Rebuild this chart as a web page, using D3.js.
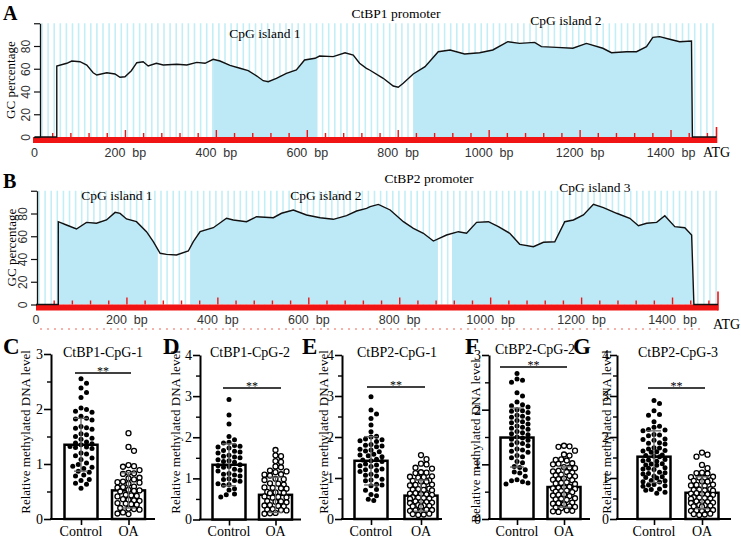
<!DOCTYPE html>
<html>
<head>
<meta charset="utf-8">
<script src="https://cdn.jsdelivr.net/npm/d3@7"></script>
<style>
  body { margin: 0; background: #fff; }
  text { font-family: "Liberation Serif", "Times New Roman", serif; }
</style>
</head>
<body>
<svg id="fig" width="741" height="542"></svg>
<script>
// ---- promoter GC profiles: [bp, GC %]
const bpTicks = [0, 200, 400, 600, 800, 1000, 1200, 1400];
const gcTicks = [0, 20, 40, 60, 80, 100];

const ctbp1Curve = [[0,0],[49,0],[49,62.4],[71,64.8],[82,66.8],[100,66.2],[115,63.3],[129,56.5],[137,54.5],[159,56.5],[177,55.4],[188,52.5],[199,53],[213,58.3],[225,65.3],[239,66.2],[250,62.4],[268,64.8],[283,63.3],[313,63.9],[335,63.3],[357,65.6],[375,64.8],[393,68.3],[408,66.8],[430,63],[452,60.4],[470,58.3],[489,53.6],[503,49.5],[514,48.6],[532,51.6],[554,56],[576,58.9],[594,67.7],[617,69.2],[627,71.2],[657,70.7],[683,74.1],[701,72],[715,64.8],[730,60.4],[737,58.9],[767,51.6],[789,44.8],[800,43.7],[811,47.2],[833,55.4],[859,61.8],[888,75],[914,76.5],[946,73],[979,74.1],[1008,76.5],[1041,83.8],[1067,82.3],[1100,83.2],[1115,79.4],[1148,78.8],[1184,78],[1214,82.3],[1250,78],[1269,74.1],[1302,75],[1324,75],[1346,79.4],[1360,87.6],[1375,88.2],[1397,85.9],[1419,83.8],[1445,84.4],[1447,0],[1500,0]];
const ctbp1Islands = [[393, 622], [833, 1447]];

const ctbp2Curve = [[0,0],[49,0],[49,72.8],[67,69.9],[89,66.4],[111,72.2],[133,71.4],[155,74.3],[174,81],[185,80.1],[199,75.2],[221,72.8],[243,64],[258,55.2],[273,45],[287,44.1],[309,43.5],[335,47],[346,55.2],[361,64],[390,67.5],[419,75.8],[434,74.3],[463,72.8],[485,77.2],[522,76.3],[540,80.2],[566,83.1],[595,78.7],[625,76.3],[654,74.9],[683,78.1],[705,82.2],[727,84.5],[735,86],[753,88],[779,83.1],[808,72.8],[830,67],[852,62.6],[874,55.8],[903,61.1],[929,64],[947,62.6],[969,72.2],[995,72.8],[1017,68.4],[1042,62.6],[1064,52.9],[1094,50.8],[1116,54.7],[1141,55.2],[1163,72.8],[1182,74.3],[1204,78.7],[1226,88.1],[1248,85.1],[1277,80.2],[1306,75.8],[1325,69.3],[1343,71.4],[1365,72.2],[1383,78.1],[1405,68.4],[1427,67.5],[1442,61.1],[1447,0],[1500,0]];
const ctbp2Islands = [[49, 268], [339, 884], [915, 1447]];

// ---- methylation bar charts
const groups = ["Control", "OA"];

const cpg1Control = [2.55,2.47,2.38,2.30,2.21,2.02,1.99,1.96,1.94,1.87,1.83,1.82,1.80,1.68,1.66,1.65,1.63,1.55,1.53,1.50,1.47,1.45,1.40,1.38,1.37,1.35,1.32,1.31,1.30,1.28,1.20,1.18,1.15,1.11,1.08,1.02,0.99,0.96,0.94,0.92,0.87,0.85,0.80,0.78,0.72,0.70,0.65,0.63,0.56];
const cpg1OA = [1.56,1.31,1.24,0.98,0.96,0.95,0.89,0.84,0.83,0.82,0.75,0.74,0.72,0.68,0.67,0.66,0.64,0.59,0.58,0.57,0.53,0.52,0.51,0.50,0.44,0.43,0.42,0.41,0.36,0.35,0.34,0.33,0.29,0.28,0.27,0.26,0.20,0.19,0.18,0.17,0.12,0.10,0.09];
const cpg1Mean = [1.35, 0.52], cpg1Sd = [0.48, 0.32];

const cpg2Control = [2.92,2.54,2.32,2.02,1.94,1.88,1.86,1.80,1.78,1.76,1.74,1.68,1.66,1.64,1.62,1.56,1.54,1.52,1.50,1.45,1.43,1.41,1.39,1.33,1.31,1.29,1.27,1.22,1.20,1.18,1.12,1.10,1.08,1.06,0.99,0.97,0.95,0.93,0.87,0.85,0.83,0.75,0.72,0.62,0.60,0.55];
const cpg2OA = [1.69,1.56,1.54,1.42,1.40,1.29,1.27,1.19,1.17,1.15,1.10,1.09,1.07,0.99,0.98,0.96,0.88,0.87,0.85,0.78,0.77,0.76,0.75,0.67,0.66,0.65,0.64,0.56,0.55,0.54,0.53,0.45,0.44,0.43,0.42,0.35,0.34,0.33,0.32,0.25,0.24,0.23,0.22,0.16,0.15,0.14];
const cpg2Mean = [1.33, 0.60], cpg2Sd = [0.51, 0.43];

const c2cpg1Control = [2.98,2.66,2.56,2.45,2.29,2.13,2.02,2.00,1.95,1.93,1.91,1.89,1.82,1.80,1.78,1.76,1.70,1.68,1.66,1.64,1.58,1.56,1.54,1.52,1.46,1.44,1.42,1.40,1.34,1.32,1.30,1.28,1.22,1.20,1.18,1.16,1.09,1.07,1.05,0.97,0.95,0.93,0.85,0.83,0.81,0.72,0.70,0.60,0.57,0.48,0.45];
const c2cpg1OA = [1.56,1.46,1.35,1.33,1.25,1.23,1.14,1.13,1.12,1.04,1.03,1.02,1.01,0.94,0.93,0.92,0.91,0.84,0.83,0.82,0.81,0.74,0.73,0.72,0.71,0.70,0.63,0.62,0.61,0.60,0.59,0.53,0.52,0.51,0.50,0.49,0.43,0.42,0.41,0.40,0.39,0.34,0.33,0.32,0.31,0.30,0.23,0.22,0.21,0.20,0.19,0.13,0.12,0.11,0.10];
const c2cpg1Mean = [1.42, 0.57], c2cpg1Sd = [0.59, 0.38];

const c2cpg2Control = [2.66,2.56,2.54,2.50,2.31,2.25,2.14,2.09,2.07,2.05,2.00,1.98,1.97,1.95,1.90,1.88,1.86,1.84,1.80,1.78,1.76,1.74,1.70,1.68,1.66,1.64,1.60,1.58,1.56,1.54,1.50,1.48,1.46,1.44,1.40,1.38,1.36,1.34,1.28,1.26,1.24,1.22,1.16,1.14,1.12,1.05,1.03,0.96,0.94,0.90,0.86,0.84,0.78,0.72,0.70,0.68,0.66,0.64];
const c2cpg2OA = [1.34,1.33,1.32,1.25,1.18,1.16,1.09,1.08,1.07,1.02,1.01,1.00,0.95,0.94,0.93,0.88,0.87,0.86,0.85,0.81,0.80,0.79,0.78,0.74,0.73,0.72,0.71,0.67,0.66,0.65,0.64,0.59,0.58,0.57,0.56,0.55,0.52,0.51,0.50,0.49,0.45,0.44,0.43,0.42,0.38,0.37,0.36,0.35,0.30,0.29,0.28,0.27,0.23,0.22,0.21,0.20,0.16,0.15,0.14,0.13];
const c2cpg2Mean = [1.49, 0.585], c2cpg2Sd = [0.54, 0.37];

const c2cpg3Control = [2.89,2.82,2.64,2.55,2.53,2.37,2.26,2.24,2.18,2.17,2.15,2.06,2.05,2.03,1.95,1.94,1.92,1.86,1.85,1.83,1.74,1.73,1.71,1.67,1.66,1.64,1.63,1.56,1.55,1.53,1.52,1.45,1.44,1.42,1.41,1.35,1.34,1.32,1.31,1.25,1.24,1.22,1.21,1.14,1.13,1.11,1.10,1.04,1.03,1.01,1.00,0.94,0.93,0.91,0.90,0.84,0.83,0.81,0.80,0.73,0.72,0.70,0.65,0.63];
const c2cpg3OA = [1.62,1.57,1.52,1.32,1.24,1.13,1.12,1.11,1.03,1.02,1.01,1.00,0.94,0.93,0.92,0.91,0.84,0.83,0.82,0.81,0.73,0.72,0.71,0.70,0.69,0.63,0.62,0.61,0.60,0.59,0.53,0.52,0.51,0.50,0.49,0.43,0.42,0.41,0.40,0.39,0.34,0.33,0.32,0.31,0.30,0.23,0.22,0.21,0.20,0.19,0.13,0.12,0.11,0.10];
const c2cpg3Mean = [1.52, 0.64], c2cpg3Sd = [0.63, 0.39];

const svg = d3.select("#fig");
const serif = '"Liberation Serif", "Times New Roman", serif';
const sans = '"Liberation Sans", Arial, sans-serif';

function drawPromoter(p) {
  const g = svg.append("g");
  const x = d3.scaleLinear().domain([0, 1500]).range(p.xRange);
  const y = d3.scaleLinear().domain([0, 100]).range([p.yBase, p.yTop]);

  // pale vertical stripes
  g.append("g").selectAll("line")
    .data(d3.range(p.axisX + 2, p.xRange[1], 6.1))
    .join("line")
    .attr("x1", d => d).attr("x2", d => d)
    .attr("y1", y(100)).attr("y2", y(0))
    .attr("stroke", "#c4eef6").attr("stroke-width", 1.6);

  // CpG island fills under the curve
  const area = d3.area().x(d => x(d[0])).y0(y(0)).y1(d => y(d[1]));
  p.islands.forEach((isl, i) => {
    const id = p.id + "clip" + i;
    g.append("clipPath").attr("id", id).append("rect")
      .attr("x", x(isl[0])).attr("width", x(isl[1]) - x(isl[0]))
      .attr("y", y(100)).attr("height", y(0) - y(100));
    g.append("path").datum(p.curve)
      .attr("clip-path", `url(#${id})`)
      .attr("fill", "#bde8f6").attr("d", area);
  });

  // red sequence bar with ticks
  g.append("rect").attr("x", p.redStart).attr("y", y(0))
    .attr("width", x(1500) - p.redStart).attr("height", 6).attr("fill", "#f01414");
  g.append("g").selectAll("line")
    .data(d3.range(40, 1500, 40))
    .join("line")
    .attr("x1", d => x(d)).attr("x2", d => x(d))
    .attr("y1", y(0)).attr("y2", d => y(0) - (d % 200 === 0 ? 7 : 4))
    .attr("stroke", "#f01414").attr("stroke-width", 1.4);
  g.append("line").attr("x1", x(1500)).attr("x2", x(1500))
    .attr("y1", y(0) + 6).attr("y2", y(0) - p.endTick)
    .attr("stroke", "#f01414").attr("stroke-width", 1.6);

  // GC curve
  g.append("path").datum(p.curve)
    .attr("fill", "none").attr("stroke", "#111").attr("stroke-width", 1.4)
    .attr("d", d3.line().x(d => x(d[0])).y(d => y(d[1])));

  // y axis
  const ya = g.append("g").attr("transform", `translate(${p.axisX},0)`)
    .call(d3.axisLeft(y).tickValues(gcTicks).tickSize(6).tickSizeOuter(0)
      .tickFormat(d => d === 100 ? "" : d));
  ya.select(".domain").attr("stroke", "#111").attr("stroke-width", 1.3);
  ya.selectAll(".tick line").attr("stroke", "#111").attr("stroke-width", 1.2);
  ya.selectAll(".tick text")
    .attr("transform", "rotate(-90)").attr("x", 0).attr("y", -10).attr("dy", 0)
    .attr("text-anchor", "middle")
    .style("font-family", sans).style("font-size", "12px").attr("fill", "#333");

  // bp labels
  g.append("g").selectAll("text")
    .data(bpTicks)
    .join("text")
    .attr("x", d => x(d)).attr("y", p.bpLabelY)
    .attr("text-anchor", "middle")
    .style("white-space", "pre")
    .style("font-family", sans).style("font-size", "12.5px").attr("fill", "#333")
    .text(d => d === 0 ? "0" : d + "  bp");

  g.append("text").attr("x", p.atg[0]).attr("y", p.atg[1])
    .style("font-size", "14px").text("ATG");

  g.append("text").attr("x", p.title[0]).attr("y", p.title[1])
    .attr("text-anchor", "middle").style("font-size", "13.5px").text(p.titleText);
  p.islandLabels.forEach((t, i) => {
    g.append("text").attr("x", p.islandLabelPos[i][0]).attr("y", p.islandLabelPos[i][1])
      .attr("text-anchor", "middle").style("font-size", "13.5px").text(t);
  });

  g.append("text")
    .attr("transform", `translate(${p.ylabelX},${(y(0) + y(100)) / 2}) rotate(-90)`)
    .attr("text-anchor", "middle").style("font-size", "13px").text("GC percentage");

  g.append("text").attr("x", p.letter[0]).attr("y", p.letter[1])
    .style("font-size", "20px").style("font-weight", "bold").text(p.letterText);
}

drawPromoter({
  id: "a", xRange: [34.5, 716.5], yBase: 137, yTop: 23.25, axisX: 40, redStart: 33,
  curve: ctbp1Curve, islands: ctbp1Islands, endTick: 10,
  bpLabelY: 157, atg: [703, 157],
  titleText: "CtBP1 promoter", title: [396, 18],
  islandLabels: ["CpG island 1", "CpG island 2"], islandLabelPos: [[265, 38], [566, 25]],
  ylabelX: 15, letterText: "A", letter: [3, 20]
});

drawPromoter({
  id: "b", xRange: [36, 718], yBase: 304.5, yTop: 190.75, axisX: 37, redStart: 36,
  curve: ctbp2Curve, islands: ctbp2Islands, endTick: 13,
  bpLabelY: 324, atg: [713, 329],
  titleText: "CtBP2 promoter", title: [429, 183],
  islandLabels: ["CpG island 1", "CpG island 2", "CpG island 3"],
  islandLabelPos: [[117, 200], [326, 200], [595, 192]],
  ylabelX: 16, letterText: "B", letter: [3, 188]
});

// faint red marks under the CtBP2 sequence bar
svg.append("line").attr("x1", 40).attr("x2", 705).attr("y1", 329).attr("y2", 329)
  .attr("stroke", "#f29a90").attr("stroke-width", 1.5).attr("stroke-dasharray", "2 5");

// simple beeswarm placement inside a bar
function swarm(vals, y, cx, r, half) {
  const placed = [];
  const step = r * 1.1;
  const offs = [0];
  for (let k = 1; k * step <= half; k++) offs.push(k * step, -k * step);
  vals.slice().sort((a, b) => b - a).forEach(v => {
    const py = y(v);
    let best = null, bestD = -1;
    for (const o of offs) {
      let dmin = Infinity;
      placed.forEach(q => { dmin = Math.min(dmin, Math.hypot(q.x - (cx + o), q.y - py)); });
      if (dmin >= 2 * r + 0.3) { best = o; bestD = dmin; break; }
      if (dmin > bestD) { bestD = dmin; best = o; }
    }
    placed.push({ x: cx + best, y: py });
  });
  return placed;
}

function drawBars(p) {
  const g = svg.append("g");
  const y = d3.scaleLinear().domain([0, p.yMax]).range([p.y0, p.yTop]);
  const x = d3.scalePoint().domain(groups).range(p.centers);
  const bw = 33;

  g.append("text").attr("transform", `translate(${p.ylabelX},${p.ylabelY || 432}) rotate(-90)`)
    .attr("text-anchor", "middle").style("font-size", "13px").text("Relative methylated DNA level");

  // y axis: major + minor ticks
  const ya = g.append("g").attr("transform", `translate(${p.axisX},0)`)
    .call(d3.axisLeft(y).tickValues(d3.range(0, p.yMax + 0.01, 1)).tickSize(7)
      .tickSizeOuter(0).tickPadding(1).tickFormat(d3.format("d")));
  ya.select(".domain").attr("stroke", "#000").attr("stroke-width", 2);
  ya.selectAll(".tick line").attr("stroke-width", 1.6);
  ya.selectAll(".tick text").style("font-family", serif).style("font-size", "14px").attr("fill", "#000");
  const ym = g.append("g").attr("transform", `translate(${p.axisX},0)`)
    .call(d3.axisLeft(y).tickValues(d3.range(0.5, p.yMax, 1)).tickSize(4).tickFormat(""));
  ym.select(".domain").remove();
  ym.selectAll(".tick line").attr("stroke-width", 1.4);

  // x axis
  g.append("line").attr("x1", p.axisX - 1).attr("x2", p.axisEnd)
    .attr("y1", y(0)).attr("y2", y(0)).attr("stroke", "#000").attr("stroke-width", 2);
  const xa = g.append("g").attr("transform", `translate(0,${y(0)})`)
    .call(d3.axisBottom(x).tickSize(6).tickFormat(""));
  xa.select(".domain").remove();
  xa.selectAll(".tick line").attr("stroke-width", 1.6);
  g.append("g").selectAll("text").data(groups).join("text")
    .attr("x", d => x(d)).attr("y", 536).attr("text-anchor", "middle")
    .style("font-size", "14px").text(d => d);

  // bars
  g.append("g").selectAll("rect").data(groups).join("rect")
    .attr("x", d => x(d) - bw / 2).attr("width", bw)
    .attr("y", (d, i) => y(p.mean[i])).attr("height", (d, i) => y(0) - y(p.mean[i]))
    .attr("fill", "#fff").attr("stroke", "#000").attr("stroke-width", 2.5);

  // dots
  const r = 2.5;
  g.append("g").selectAll("circle").data(swarm(p.control, y, x("Control"), r, bw / 2 - r - 1))
    .join("circle").attr("cx", d => d.x).attr("cy", d => d.y).attr("r", r).attr("fill", "#000");
  g.append("g").selectAll("circle").data(swarm(p.oa, y, x("OA"), r, bw / 2 - r - 1))
    .join("circle").attr("cx", d => d.x).attr("cy", d => d.y).attr("r", r)
    .attr("fill", "#fff").attr("stroke", "#000").attr("stroke-width", 1.3);

  // SD error bars
  groups.forEach((k, i) => {
    const cx = x(k), top = y(p.mean[i] + p.sd[i]), bot = y(p.mean[i] - p.sd[i]);
    const e = g.append("g").attr("stroke", "#666").attr("stroke-width", 1.3);
    e.append("line").attr("x1", cx).attr("x2", cx).attr("y1", top).attr("y2", bot);
    e.append("line").attr("x1", cx - 7).attr("x2", cx + 7).attr("y1", top).attr("y2", top);
    e.append("line").attr("x1", cx - 7).attr("x2", cx + 7).attr("y1", bot).attr("y2", bot);
  });

  // significance
  g.append("line").attr("x1", p.sig[0]).attr("x2", p.sig[1]).attr("y1", p.sig[2]).attr("y2", p.sig[2])
    .attr("stroke", "#000").attr("stroke-width", 1.3);
  g.append("text").attr("x", (p.sig[0] + p.sig[1]) / 2).attr("y", p.sig[2] + 2)
    .attr("text-anchor", "middle").style("font-size", "12px").text("**");

  g.append("text").attr("x", p.titleX).attr("y", p.titleY || 357).attr("text-anchor", "middle")
    .style("font-size", "14px").text(p.title);
  g.append("text").attr("x", p.letterX).attr("y", 354)
    .style("font-size", "23px").style("font-weight", "bold").text(p.letter);
}

drawBars({ axisX: 51, axisEnd: 155, yMax: 3, y0: 519, yTop: 354, centers: [81, 128.5],
  control: cpg1Control, oa: cpg1OA, mean: cpg1Mean, sd: cpg1Sd,
  sig: [75, 131, 373], title: "CtBP1-CpG-1", titleX: 103, ylabelX: 30, letter: "C", letterX: 3 });
drawBars({ axisX: 200, axisEnd: 301, yMax: 4, y0: 519.5, yTop: 355, centers: [229, 275.5],
  control: cpg2Control, oa: cpg2OA, mean: cpg2Mean, sd: cpg2Sd,
  sig: [223, 281, 388], title: "CtBP1-CpG-2", titleX: 250, ylabelX: 180, letter: "D", letterX: 163 });
drawBars({ axisX: 342, axisEnd: 442, yMax: 4, y0: 519, yTop: 355, centers: [371, 421],
  control: c2cpg1Control, oa: c2cpg1OA, mean: c2cpg1Mean, sd: c2cpg1Sd,
  sig: [367, 425, 387], title: "CtBP2-CpG-1", titleX: 397, ylabelX: 328, letter: "E", letterX: 302 });
drawBars({ axisX: 489, axisEnd: 590, yMax: 3, y0: 519, yTop: 355, centers: [517, 564],
  control: c2cpg2Control, oa: c2cpg2OA, mean: c2cpg2Mean, sd: c2cpg2Sd,
  sig: [500, 567, 367], title: "CtBP2-CpG-2", titleX: 535, titleY: 354, ylabelX: 480, ylabelY: 441,
  letter: "F", letterX: 465 });
drawBars({ axisX: 617, axisEnd: 731, yMax: 4, y0: 519, yTop: 355, centers: [654, 702],
  control: c2cpg3Control, oa: c2cpg3OA, mean: c2cpg3Mean, sd: c2cpg3Sd,
  sig: [648, 705, 388], title: "CtBP2-CpG-3", titleX: 678, ylabelX: 611, letter: "G", letterX: 573 });
</script>
</body>
</html>
